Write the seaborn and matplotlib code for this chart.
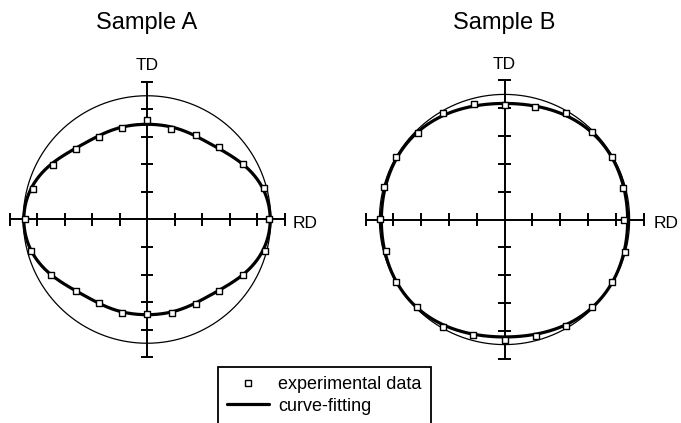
import numpy as np
import pandas as pd
import matplotlib
matplotlib.use("Agg")
import matplotlib.pyplot as plt
from matplotlib.lines import Line2D
import seaborn as sns

sns.set_theme(style="white")
plt.rcParams['font.family'] = ['Liberation Sans', 'DejaVu Sans']
plt.rcParams['text.color'] = 'black'

# ---------------- data (in axis-tick units) ----------------
angles_deg = list(range(0, 360, 15))

r_sample_a = [4.45, 4.40, 4.02, 3.71, 3.53, 3.39, 3.61, 3.46, 3.47, 3.63, 3.95, 4.31,
              4.44, 4.38, 4.03, 3.66, 3.52, 3.53, 3.45, 3.51, 3.53, 3.70, 4.02, 4.46]

r_sample_b = [4.30, 4.41, 4.48, 4.45, 4.43, 4.20, 4.11, 4.29, 4.43, 4.42, 4.50, 4.49,
              4.49, 4.43, 4.49, 4.45, 4.46, 4.31, 4.33, 4.34, 4.44, 4.45, 4.48, 4.47]

# curve-fitting coefficients: r = c0 + c2 cos2t + c4 cos4t + c8 cos8t + s1 sin t
fit_coef_a = [3.835, 0.509, 0.153, -0.017, 0.0]
fit_coef_b = [4.383, 0.115, -0.068, 0.0, -0.025]

ref_circle_radius = [4.5, 4.5]
axis_half_length = 5
tick_positions = [-4, -3, -2, -1, 1, 2, 3, 4]

titles = ["Sample A", "Sample B"]
axis_labels = ["RD", "TD"]
legend_labels = ["experimental data", "curve-fitting"]

# ---------------- layout ----------------
W, H = 681, 423
fig = plt.figure(figsize=(W / 100, H / 100), dpi=100)

panels = [
    dict(title=titles[0], r=r_sample_a, coef=fit_coef_a, circ=ref_circle_radius[0],
         cx=147.0, cy=219.5, scale=27.5, rd_x=5.30, rd_y=-0.32),
    dict(title=titles[1], r=r_sample_b, coef=fit_coef_b, circ=ref_circle_radius[1],
         cx=504.5, cy=219.5, scale=27.8, rd_x=5.36, rd_y=-0.30),
]

half = 5.7
tick_len = 0.23

for p in panels:
    s = p["scale"]
    left = (p["cx"] - half * s) / W
    bottom = (H - (p["cy"] + half * s)) / H
    ax = fig.add_axes([left, bottom, 2 * half * s / W, 2 * half * s / H])
    ax.set_xlim(-half, half)
    ax.set_ylim(-half, half)
    ax.axis("off")

    # cross axes with ticks
    L = axis_half_length
    ax.hlines(0, -L, L, color="black", lw=1.4, zorder=2)
    ax.vlines(0, -L, L, color="black", lw=1.4, zorder=2)
    ticks = np.array(tick_positions + [-L, L], dtype=float)
    ax.vlines(ticks, -tick_len, tick_len, color="black", lw=1.4, zorder=2)
    ax.hlines(ticks, -tick_len, tick_len, color="black", lw=1.4, zorder=2)

    # reference circle
    th = np.linspace(0, 2 * np.pi, 721)
    circ = pd.DataFrame({"x": p["circ"] * np.cos(th), "y": p["circ"] * np.sin(th)})
    sns.lineplot(data=circ, x="x", y="y", sort=False, estimator=None, ax=ax,
                 color="black", lw=0.9, zorder=3)

    # curve fitting
    c0, c2, c4, c8, s1 = p["coef"]
    rf = (c0 + c2 * np.cos(2 * th) + c4 * np.cos(4 * th) + c8 * np.cos(8 * th)
          + s1 * np.sin(th))
    fit = pd.DataFrame({"x": rf * np.cos(th), "y": rf * np.sin(th)})
    sns.lineplot(data=fit, x="x", y="y", sort=False, estimator=None, ax=ax,
                 color="black", lw=2.3, zorder=4)

    # experimental data
    a = np.deg2rad(angles_deg)
    r = np.array(p["r"])
    pts = pd.DataFrame({"x": r * np.cos(a), "y": r * np.sin(a)})
    sns.scatterplot(data=pts, x="x", y="y", ax=ax, marker="s", s=18,
                    facecolor="white", edgecolor="black", linewidth=1.0, zorder=5)

    ax.text(p["rd_x"], p["rd_y"], axis_labels[0], ha="left", va="baseline",
            fontsize=12.5, clip_on=False)
    ax.text(0, L + 0.42, axis_labels[1], ha="center", va="baseline",
            fontsize=12.5, clip_on=False)

    fig.text(p["cx"] / W, 1 - 29.5 / H, p["title"], ha="center", va="baseline",
             fontsize=17)

handles = [
    Line2D([], [], ls="none", marker="s", markersize=4.2, markerfacecolor="white",
           markeredgecolor="black", markeredgewidth=1.0),
    Line2D([], [], color="black", lw=2.3),
]
leg = fig.legend(handles, legend_labels, loc="upper left",
                 bbox_to_anchor=(218 / W, 1 - 367 / H), fontsize=13,
                 frameon=True, fancybox=False, framealpha=1, edgecolor="black",
                 borderpad=0.5, handlelength=2.3, handletextpad=0.55,
                 labelspacing=0.25, borderaxespad=0)
leg.get_frame().set_linewidth(1.3)

fig.savefig("out.png", dpi=100)
